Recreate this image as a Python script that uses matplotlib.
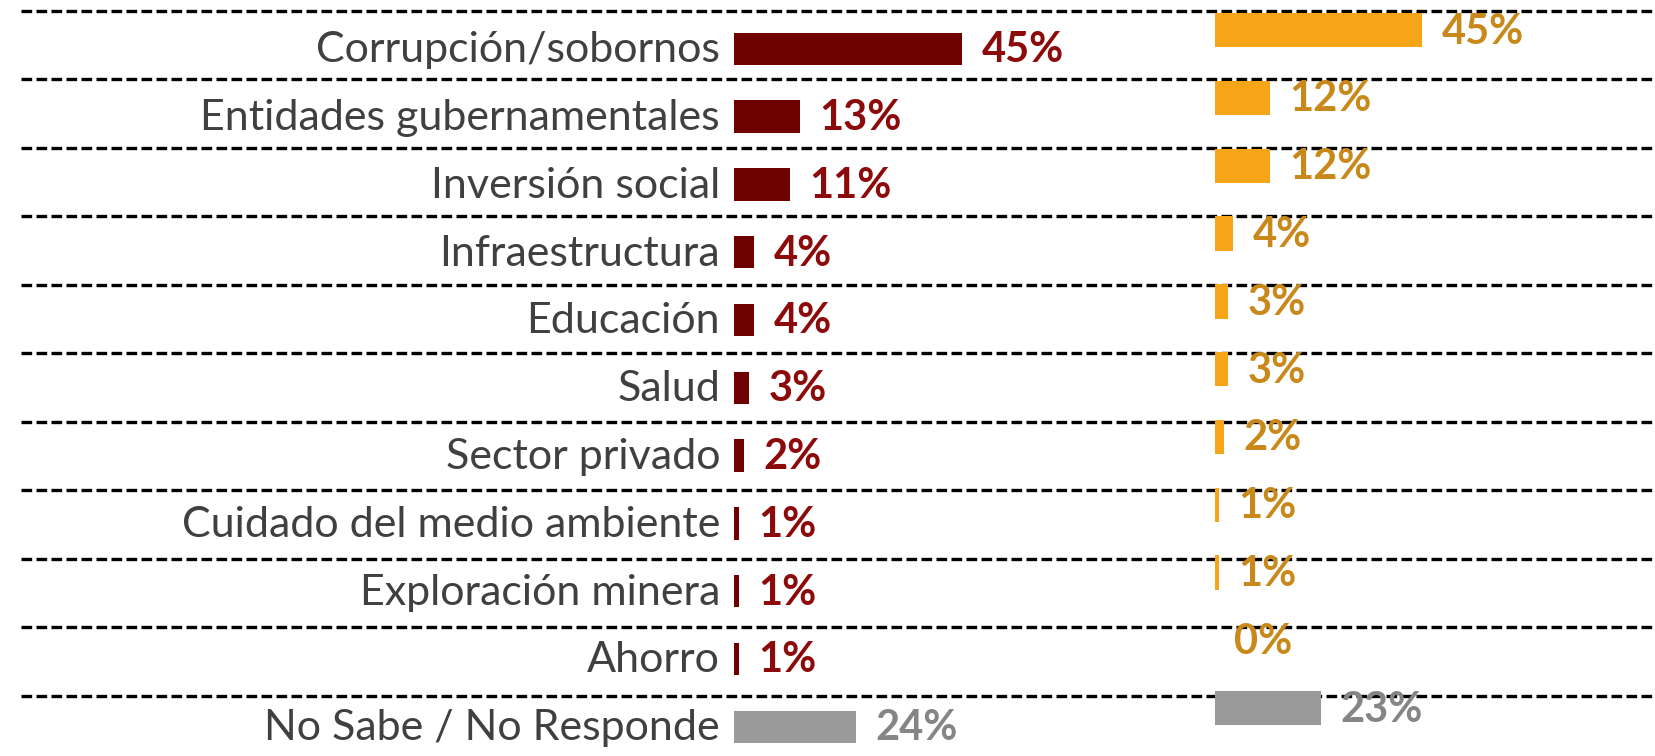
import numpy as np
import matplotlib.pyplot as plt

plt.rcParams['font.family'] = ['Lato', 'DejaVu Sans']

categorias = ['Corrupción/sobornos', 'Entidades gubernamentales', 'Inversión social',
              'Infraestructura', 'Educación', 'Salud', 'Sector privado',
              'Cuidado del medio ambiente', 'Exploración minera', 'Ahorro',
              'No Sabe / No Responde']
valores_izq = [45, 13, 11, 4, 4, 3, 2, 1, 1, 1, 24]
valores_der = [45, 12, 12, 4, 3, 3, 2, 1, 1, 0, 23]

# colores
rojo_barra, rojo_texto = '#6E0000', '#8C0A0A'
naranja_barra, naranja_texto = '#F5A517', '#C8891A'
gris_barra, gris_texto = '#9A9A9A', '#858585'

W, H = 1655, 756
fig = plt.figure(figsize=(W / 100, H / 100), dpi=100)

# fondo con las lineas punteadas
ax_bg = fig.add_axes([0, 0, 1, 1])
ax_bg.set_xlim(0, 1)
ax_bg.set_ylim((H - 10.7) / 68.53, -10.7 / 68.53)
ax_bg.hlines(np.arange(11), 21 / W, 1, colors='black', lw=2.4,
             linestyles=(0, (3.2, 1.3)))
ax_bg.axis('off')

paso = 67.8
top_izq = 48.8 - 0.5 * paso
ax_izq = fig.add_axes([734 / W, 1 - (top_izq + 11 * paso) / H, 480 / W, 11 * paso / H])
top_der = top_izq - 18.6
ax_der = fig.add_axes([1214.5 / W, 1 - (top_der + 11 * paso) / H, 440.5 / W, 11 * paso / H])

y = np.arange(len(categorias))
n = len(categorias)

col_izq = [rojo_barra] * (n - 1) + [gris_barra]
txt_izq = [rojo_texto] * (n - 1) + [gris_texto]
ax_izq.barh(y, valores_izq, height=0.48, color=col_izq)
ax_izq.set_xlim(0, 480 / 5.07)

col_der = [naranja_barra] * (n - 1) + [gris_barra]
txt_der = [naranja_texto] * (n - 1) + [gris_texto]
ax_der.barh(y, valores_der, height=0.51, color=col_der)
ax_der.set_xlim(0, 440.5 / 4.61)

for ax in (ax_izq, ax_der):
    ax.set_ylim(n - 0.5, -0.5)
    ax.set_facecolor('none')
    ax.axis('off')

for i, (v, c) in enumerate(zip(valores_izq, txt_izq)):
    ax_izq.annotate(f'{v}%', (v, i), xytext=(14, -1), textcoords='offset points',
                    ha='left', va='center', fontsize=30, fontweight='bold', color=c)
    ax_izq.annotate(categorias[i], (0, i), xytext=(-10, -1), textcoords='offset points',
                    ha='right', va='center', fontsize=31, color='#404040')

for i, (v, c) in enumerate(zip(valores_der, txt_der)):
    ax_der.annotate(f'{v}%', (v, i), xytext=(14, -1), textcoords='offset points',
                    ha='left', va='center', fontsize=30, fontweight='bold', color=c)

fig.savefig('out.png', dpi=100)
